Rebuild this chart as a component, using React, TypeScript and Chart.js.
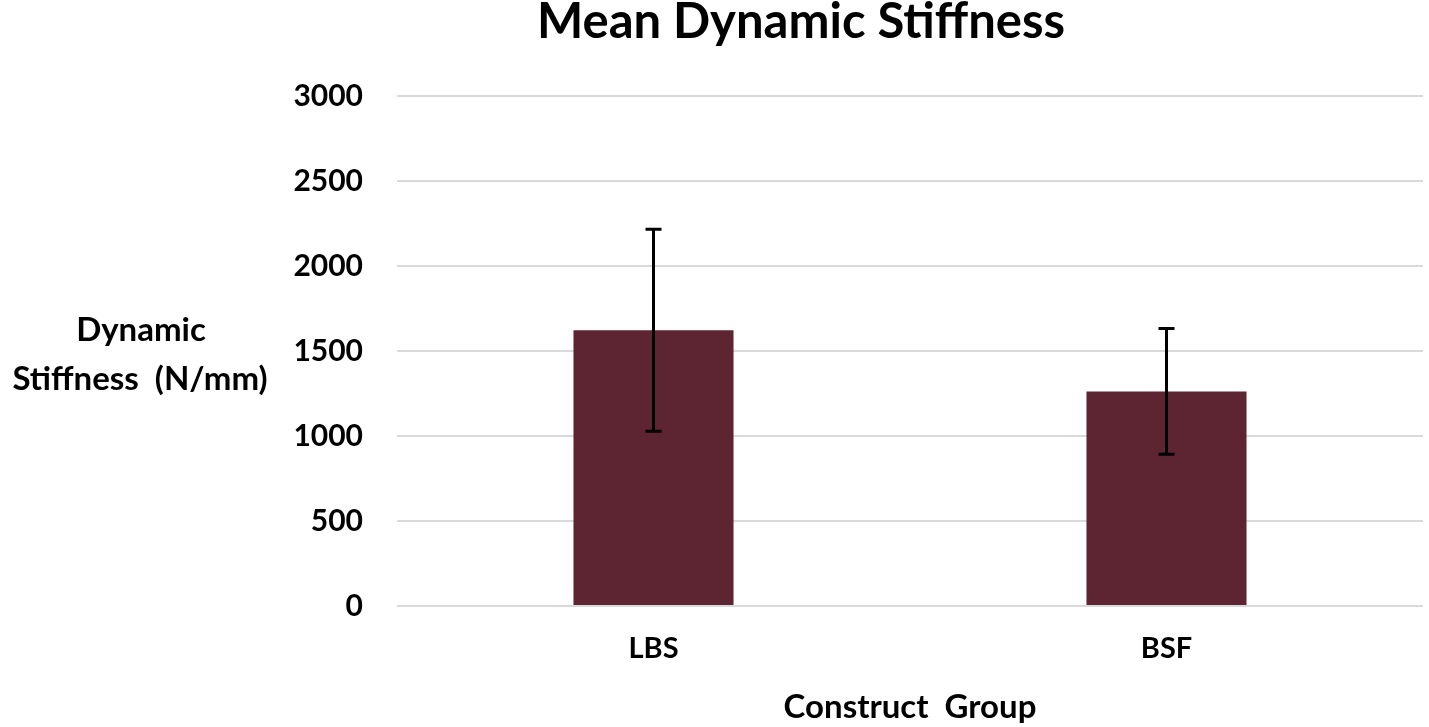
import React, { useEffect, useRef } from 'react';
import Chart from 'chart.js/auto';

const groups = ['LBS', 'BSF'];
const meanStiffness = [1622, 1262];
const stdStiffness = [594, 370];
const yTicks = [0, 500, 1000, 1500, 2000, 2500, 3000];

const chartTitle = 'Mean Dynamic Stiffness';
const yTitle = ['Dynamic', 'Stiffness  (N/mm)'];
const xTitle = 'Construct  Group';

const FONT = 'Lato, "Open Sans", sans-serif';

const errorBars = {
  id: 'errorBars',
  afterDatasetsDraw(chart: any) {
    const { ctx } = chart;
    const y = chart.scales.y;
    const meta = chart.getDatasetMeta(0);
    ctx.save();
    ctx.strokeStyle = '#000';
    ctx.lineWidth = 3;
    meta.data.forEach((bar: any, i: number) => {
      const top = y.getPixelForValue(meanStiffness[i] + stdStiffness[i]);
      const bot = y.getPixelForValue(meanStiffness[i] - stdStiffness[i]);
      const x = bar.x;
      ctx.beginPath();
      ctx.moveTo(x, top);
      ctx.lineTo(x, bot);
      ctx.moveTo(x - 8, top);
      ctx.lineTo(x + 8, top);
      ctx.moveTo(x - 8, bot);
      ctx.lineTo(x + 8, bot);
      ctx.stroke();
    });
    ctx.restore();
  },
};

const labels = {
  id: 'labels',
  afterDraw(chart: any) {
    const { ctx, chartArea } = chart;
    ctx.save();
    ctx.fillStyle = '#000';
    ctx.textAlign = 'center';
    ctx.textBaseline = 'middle';
    ctx.font = `bold 49px ${FONT}`;
    ctx.fillText(chartTitle, 801, 22);
    ctx.font = `bold 33px ${FONT}`;
    ctx.fillText(yTitle[0], 141, 330);
    ctx.fillText(yTitle[1], 140, 379);
    ctx.fillText(xTitle, (chartArea.left + chartArea.right) / 2, 707);
    ctx.restore();
  },
};

export default function App() {
  const canvasRef = useRef<HTMLCanvasElement | null>(null);

  useEffect(() => {
    if (!canvasRef.current) return;
    const chart = new Chart(canvasRef.current, {
      type: 'bar',
      data: {
        labels: groups,
        datasets: [
          {
            data: meanStiffness,
            backgroundColor: '#5d2531',
            categoryPercentage: 1,
            barPercentage: 0.312,
          },
        ],
      },
      options: {
        animation: false,
        responsive: false,
        devicePixelRatio: 1,
        layout: { padding: { top: 96, right: 6, left: 0, bottom: 0 } },
        plugins: {
          legend: { display: false },
          title: { display: false },
          tooltip: { enabled: false },
        },
        scales: {
          x: {
            grid: { display: false, drawTicks: false },
            border: { display: false },
            ticks: {
              padding: 25,
              color: '#000',
              font: { family: FONT, size: 29, weight: 'bold' },
            },
            afterFit: (scale: any) => {
              scale.height = 121;
            },
          },
          y: {
            min: 0,
            max: 3000,
            afterBuildTicks: (scale: any) => {
              scale.ticks = yTicks.map((v) => ({ value: v }));
            },
            grid: { color: '#d9d9d9', lineWidth: 2, drawTicks: false },
            border: { display: false },
            ticks: {
              padding: 34,
              color: '#000',
              font: { family: FONT, size: 30, weight: 'bold' },
              callback: (v: any) => String(v),
            },
            afterFit: (scale: any) => {
              scale.width = 397;
            },
          },
        },
      },
      plugins: [errorBars, labels],
    });
    return () => chart.destroy();
  }, []);

  return (
    <div style={{ position: 'absolute', left: 0, top: 0, width: 1429, height: 727, background: '#fff' }}>
      <canvas ref={canvasRef} width={1429} height={727} />
    </div>
  );
}
